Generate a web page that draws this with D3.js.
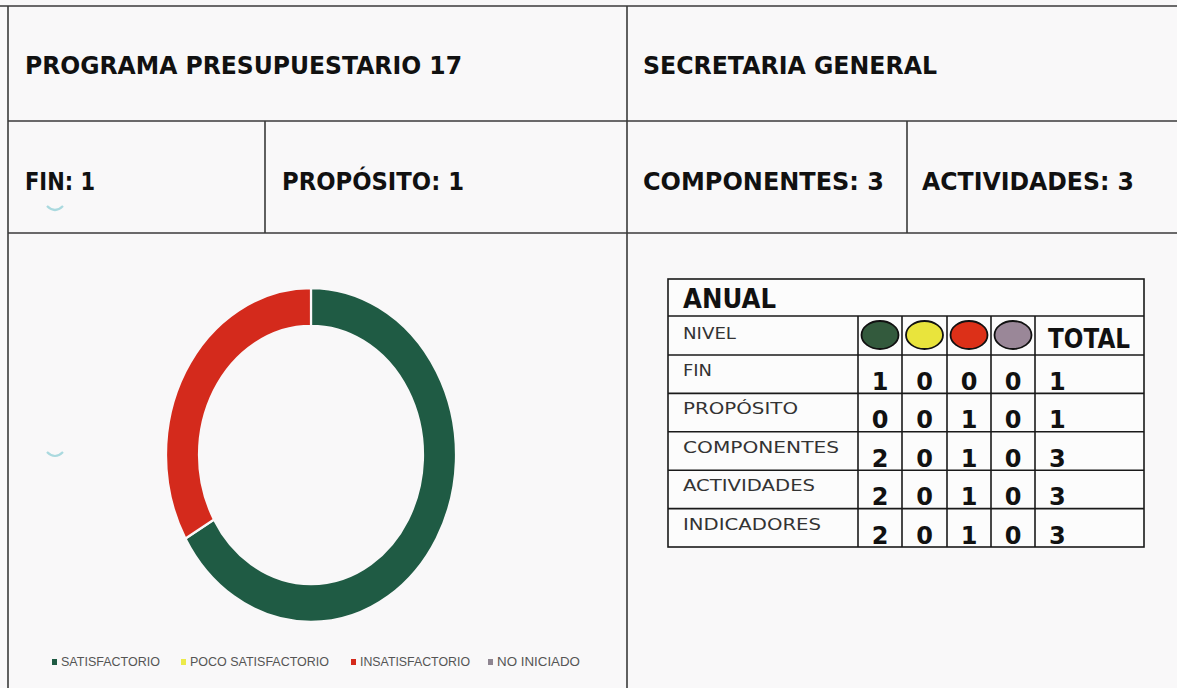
<!DOCTYPE html>
<html>
<head>
<meta charset="utf-8">
<script src="https://cdn.jsdelivr.net/npm/d3@7"></script>
<style>
  html, body { margin: 0; padding: 0; background: #f9f8f9; }
  svg { display: block; }
</style>
</head>
<body>
<svg id="chart" width="1177" height="688"></svg>
<script>
// Program header
const programa = "PROGRAMA PRESUPUESTARIO 17";
const unidad = "SECRETARIA GENERAL";

// Result levels and counts per status
const niveles = ["FIN", "PROPÓSITO", "COMPONENTES", "ACTIVIDADES", "INDICADORES"];
const estados = ["SATISFACTORIO", "POCO SATISFACTORIO", "INSATISFACTORIO", "NO INICIADO"];
const satisfactorio      = [1, 0, 2, 2, 2];
const pocoSatisfactorio  = [0, 0, 0, 0, 0];
const insatisfactorio    = [0, 1, 1, 1, 1];
const noIniciado         = [0, 0, 0, 0, 0];

const colores = ["#1f5b44", "#ecea4a", "#d42a1c", "#8e8591"];
const semaforo = ["#335a3d", "#e9e43c", "#dc3018", "#9a8798"];

const porEstado = [satisfactorio, pocoSatisfactorio, insatisfactorio, noIniciado];
const totales = niveles.map((_, i) => d3.sum(porEstado, s => s[i]));

const svg = d3.select("#chart");
const W = 1177, H = 688;
const bg = "#f9f8f9";

// ---- frame ----
const ink = "#3a3a3a";
const frame = svg.append("g").attr("stroke", ink).attr("stroke-width", 1.6);
[[0, 6, W, 6], [8, 6, 8, H], [8, 121, W, 121], [8, 233, W, 233],
 [627, 6, 627, H], [265, 121, 265, 233], [907, 121, 907, 233]]
  .forEach(([x1, y1, x2, y2]) => frame.append("line")
    .attr("x1", x1).attr("y1", y1).attr("x2", x2).attr("y2", y2));

const head = "'DejaVu Sans', sans-serif";
function fitText(g, txt, x, y, width, size, weight) {
  return g.append("text").attr("x", x).attr("y", y)
    .attr("font-family", head).attr("font-size", size).attr("font-weight", weight)
    .attr("fill", "#111")
    .attr("textLength", width).attr("lengthAdjust", "spacingAndGlyphs")
    .text(txt);
}

fitText(svg, programa, 25, 74, 437, 25, "bold");
fitText(svg, unidad, 643, 74, 294, 25, "bold");
fitText(svg, `FIN: ${totales[0]}`, 25, 190, 70, 25, "bold");
fitText(svg, `PROPÓSITO: ${totales[1]}`, 282, 190, 182, 25, "bold");
fitText(svg, `COMPONENTES: ${totales[2]}`, 643, 190, 241, 25, "bold");
fitText(svg, `ACTIVIDADES: ${totales[3]}`, 922, 190, 212, 25, "bold");

// faint marks on the left panel
[[55, 206], [55, 452]].forEach(([x, y]) => {
  svg.append("path")
    .attr("d", `M${x - 8},${y} Q${x},${y + 8} ${x + 8},${y}`)
    .attr("fill", "none").attr("stroke", "#8fcfd6").attr("stroke-width", 2.2)
    .attr("opacity", 0.75);
});

// ---- donut (indicator status) ----
const idx = niveles.indexOf("INDICADORES");
const donutData = estados.map((e, k) => ({ estado: e, valor: porEstado[k][idx], color: colores[k] }));
const pie = d3.pie().sort(null).value(d => d.valor);
const arc = d3.arc().innerRadius(112).outerRadius(145);
const donut = svg.append("g").attr("transform", "translate(311,455) scale(1,1.152)");
donut.selectAll("path")
  .data(pie(donutData).filter(d => d.data.valor > 0))
  .join("path")
  .attr("d", arc)
  .attr("fill", d => d.data.color)
  .attr("stroke", bg).attr("stroke-width", 2.2);

// ---- legend ----
const legX = [52, 181, 351, 488];
const legW = [99, 139, 110, 83];
const leg = svg.append("g");
estados.forEach((e, k) => {
  leg.append("rect").attr("x", legX[k]).attr("y", 659).attr("width", 5).attr("height", 6)
    .attr("fill", colores[k]);
  leg.append("text").attr("x", legX[k] + 9).attr("y", 666)
    .attr("font-family", "'Liberation Sans Narrow', 'Liberation Sans', Arial, sans-serif")
    .attr("font-size", 13).attr("fill", "#555")
    .attr("textLength", legW[k]).attr("lengthAdjust", "spacingAndGlyphs")
    .text(e);
});

// ---- summary table ----
const tX0 = 668, tX1 = 1144;
const colEdges = [668, 858, 902, 947, 991, 1035, 1144];
const yTop = 279, yAnual = 316, yNivel = 355;
const rowY = d3.scaleBand().domain(niveles).range([yNivel, 547]);
const tb = svg.append("g");
tb.append("rect").attr("x", tX0).attr("y", yTop).attr("width", tX1 - tX0).attr("height", 547 - yTop)
  .attr("fill", "#fcfcfc").attr("stroke", "#1a1a1a").attr("stroke-width", 1.6);
const tLines = tb.append("g").attr("stroke", "#1a1a1a").attr("stroke-width", 1.6);
tLines.append("line").attr("x1", tX0).attr("x2", tX1).attr("y1", yAnual).attr("y2", yAnual);
niveles.forEach(n => tLines.append("line").attr("x1", tX0).attr("x2", tX1)
  .attr("y1", rowY(n)).attr("y2", rowY(n)));
colEdges.slice(1, -1).forEach(x => tLines.append("line").attr("x1", x).attr("x2", x)
  .attr("y1", yAnual).attr("y2", 547));

const cg = "'DejaVu Sans', sans-serif";
tb.append("text").attr("x", 683).attr("y", 308).attr("font-family", cg).attr("font-weight", "bold")
  .attr("font-size", 26).attr("fill", "#111").attr("textLength", 93).attr("lengthAdjust", "spacingAndGlyphs")
  .text("ANUAL");
tb.append("text").attr("x", 683).attr("y", 339).attr("font-family", cg)
  .attr("font-size", 16).attr("fill", "#333").attr("textLength", 53).attr("lengthAdjust", "spacingAndGlyphs")
  .text("NIVEL");
tb.append("text").attr("x", 1048).attr("y", 348).attr("font-family", cg).attr("font-weight", "bold")
  .attr("font-size", 26).attr("fill", "#111").attr("textLength", 82).attr("lengthAdjust", "spacingAndGlyphs")
  .text("TOTAL");

const colCx = k => (colEdges[k + 1] + colEdges[k + 2]) / 2;
semaforo.forEach((c, k) => {
  tb.append("ellipse").attr("cx", colCx(k)).attr("cy", 335).attr("rx", 18.5).attr("ry", 14)
    .attr("fill", c).attr("stroke", "#111").attr("stroke-width", 1.8);
});

const labelW = { "FIN": 29, "PROPÓSITO": 115, "COMPONENTES": 156, "ACTIVIDADES": 132, "INDICADORES": 138 };
niveles.forEach((n, i) => {
  const y0 = rowY(n);
  tb.append("text").attr("x", 683).attr("y", y0 + 21).attr("font-family", cg)
    .attr("font-size", 16).attr("fill", "#333")
    .attr("textLength", labelW[n]).attr("lengthAdjust", "spacingAndGlyphs")
    .text(n);
  porEstado.forEach((s, k) => {
    tb.append("text").attr("x", colCx(k)).attr("y", y0 + 35).attr("text-anchor", "middle")
      .attr("font-family", cg).attr("font-weight", "bold").attr("font-size", 24).attr("fill", "#111")
      .text(s[i]);
  });
  tb.append("text").attr("x", 1049).attr("y", y0 + 35)
    .attr("font-family", cg).attr("font-weight", "bold").attr("font-size", 24).attr("fill", "#111")
    .text(totales[i]);
});
</script>
</body>
</html>
